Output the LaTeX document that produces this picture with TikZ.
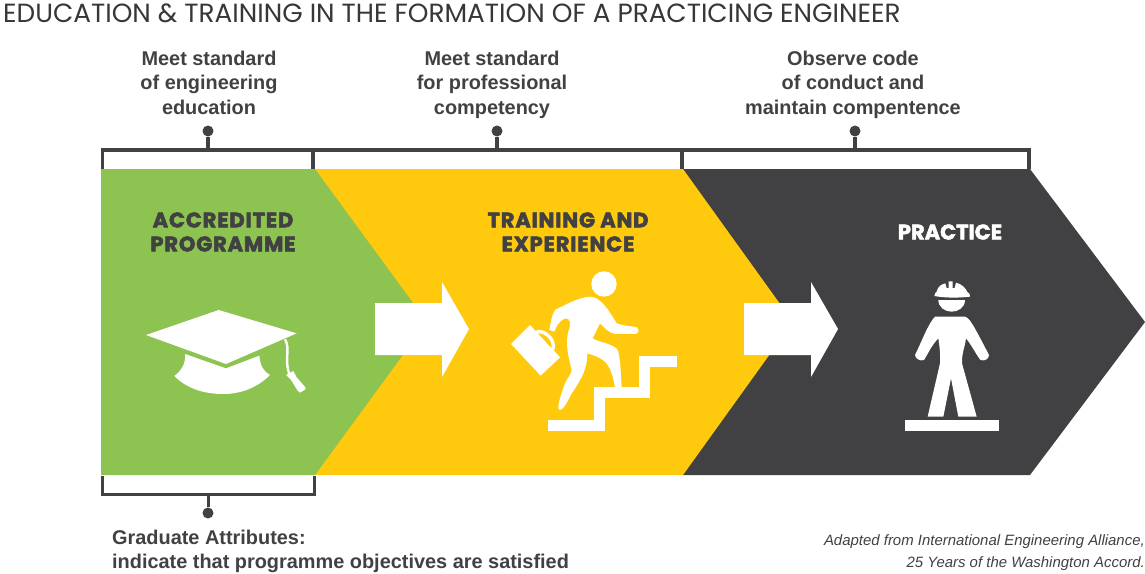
\documentclass[tikz,border=0pt]{standalone}
\usepackage{fontspec}
\setmainfont{Liberation Sans}
\newfontfamily\titlefont{Poppins}
\newfontfamily\headfont[FakeBold=2.5, LetterSpace=4]{Poppins}
\newfontfamily\plainheadfont[FakeBold=2.5]{Poppins}
\usetikzlibrary{positioning}
\definecolor{ink}{HTML}{414042}
\definecolor{leaf}{HTML}{8DC350}
\definecolor{sun}{HTML}{FFC90D}
\tikzstyle{rail} = [draw=ink, line width=3.6pt, line cap=rect]
\tikzstyle{railthin} = [draw=ink, line width=3pt, line cap=rect]
\tikzstyle{pin} = [circle, fill=ink, inner sep=0pt, minimum size=11pt]
\tikzstyle{note} = [text=ink, align=center, inner sep=0pt, anchor=north, font=\fontsize{19.9}{24.5}\selectfont\bfseries]
\tikzstyle{head} = [text=ink, align=center, inner sep=0pt, font=\fontsize{21}{24}\selectfont\headfont\bfseries]
\tikzstyle{icon} = [fill=white, draw=none]
\tikzstyle{zoomed} = [x=0.3333pt, y=-0.3333pt]

\begin{document}
\begin{tikzpicture}[x=1pt, y=-1pt]
    \useasboundingbox (0,0) rectangle (1145,573);

    % chevrons
    \fill [ink] (683,169) -- (1030,169) -- (1145,322) -- (1030,475) -- (683,475) -- cycle;
    \fill [sun] (315,169) -- (683,169) -- (793,322) -- (683,475) -- (315,475) -- cycle;
    \fill [leaf] (101,169) -- (315,169) -- (427,322) -- (315,475) -- (101,475) -- cycle;

    % white arrows
    \fill [icon] (375,303) -- (442,303) -- (442,282) -- (469,329) -- (442,377) -- (442,355) -- (375,355) -- cycle;
    \fill [icon] (744,303) -- (811,303) -- (811,282) -- (838,329) -- (811,377) -- (811,355) -- (744,355) -- cycle;

    % brackets
    \coordinate (railL) at (102.5,150);
    \coordinate (railA) at (313,150);
    \coordinate (railB) at (682,150);
    \coordinate (railR) at (1029,150);
    \draw [rail] (102.5,167) -- (railL) -- (railR) -- (1029,167);
    \draw [rail] (railA) -- (313,167);
    \draw [rail] (railB) -- (682,167);
    \coordinate (baseL) at (102.5,494);
    \coordinate (baseR) at (314,494);
    \draw [railthin] (102.5,477) -- (baseL) -- (baseR) -- (314,477);

    % pins and notes
    \node [pin] (pinA) at (208,131) {};
    \node [pin] (pinB) at (497,131) {};
    \node [pin] (pinC) at (855,131) {};
    \node [pin] (pinD) at (208,513) {};
    \draw [rail, line cap=butt] (pinA) -- (pinA |- railL);
    \draw [rail, line cap=butt] (pinB) -- (pinB |- railL);
    \draw [rail, line cap=butt] (pinC) -- (pinC |- railL);
    \draw [railthin, line cap=butt] (pinD) -- (pinD |- baseL);
    \node [note] (noteA) at (209,50.5) {Meet standard\\of engineering\\education};
    \node [note] (noteB) at (492,50.5) {Meet standard\\for professional\\competency};
    \node [note] (noteC) at (853,50.5) {Observe code\\of conduct and\\maintain compentence};
    \node [note, align=left, anchor=north west] (noteD) at (112,529.5) {Graduate Attributes:\\indicate that programme objectives are satisfied};
    \node [text=ink, align=right, anchor=north east, inner sep=0pt, font=\fontsize{14.95}{22}\selectfont\itshape] (source) at (1145,534.5) {Adapted from International Engineering Alliance,\\25 Years of the Washington Accord.};
    \node [anchor=west, inner sep=0pt, text=ink!85!black, font=\fontsize{26.3}{30}\selectfont\titlefont] (title) at (3,13) {EDUCATION \& TRAINING IN THE FORMATION OF A PRACTICING ENGINEER};

    % headings
    \node [head] (acc) at (223,232) {ACCREDITED\\PROGRAMME};
    \node [head] (trn) at (568,232) {TRAINING AND\\EXPERIENCE};
    \node [head, text=white, font=\fontsize{21}{24}\selectfont\plainheadfont\bfseries] (prc) at (950,232) {PRACTICE};

    % cap
    \begin{scope}[shift={(130,290)}, zoomed]
        \fill [icon] (48,135) -- (266,60) -- (500,130) -- (288,222) -- cycle;
        \fill [icon] (165,192) -- (288,235) -- (388,197) .. controls (390,225) and (400,245) .. (420,255)
            .. controls (380,295) and (330,312) .. (280,312) .. controls (220,312) and (170,295) .. (133,258)
            .. controls (150,245) and (168,225) .. (165,192) -- cycle;
        \draw [white, line width=2.4pt] (465,148) .. controls (482,175) and (462,210) .. (478,252);
        \fill [icon] (468,255) -- (490,243) -- (500,262) -- (527,293) -- (525,299) -- (510,308) -- (503,302) -- (482,268) -- cycle;
    \end{scope}

    % walking man and stairs
    \begin{scope}[shift={(500,260)}, zoomed]
        \fill [icon] (312,72) circle (38);
        \fill [icon] (270,110) .. controls (300,112) and (320,140) .. (350,190) .. controls (370,198) and (395,198) .. (410,202)
            .. controls (420,208) and (415,222) .. (405,222) -- (345,222) .. controls (325,218) and (310,200) .. (300,190)
            -- (278,235) .. controls (300,248) and (335,250) .. (352,268) .. controls (362,290) and (362,340) .. (365,382)
            -- (345,382) .. controls (340,350) and (330,320) .. (315,305) .. controls (300,292) and (280,285) .. (262,280)
            .. controls (262,320) and (250,350) .. (215,400) .. controls (205,420) and (190,450) .. (180,450)
            .. controls (170,450) and (175,425) .. (195,370) .. controls (205,350) and (215,340) .. (215,330)
            .. controls (205,290) and (195,250) .. (205,215) .. controls (215,190) and (210,175) .. (197,175)
            .. controls (180,180) and (170,195) .. (163,215) -- (148,210) .. controls (152,190) and (155,165) .. (165,150)
            .. controls (195,135) and (235,112) .. (270,110) -- cycle;
        \fill [icon] (33,252) -- (90,195) -- (180,292) -- (122,347) -- cycle;
        \draw [white, line width=3.4pt] (108,218) .. controls (125,205) and (170,235) .. (158,270);
        \draw [white, line width=11pt, line join=miter] (144,497.5) -- (298.5,497.5) -- (298.5,399) -- (435,399) -- (435,305.5) -- (530,305.5);
    \end{scope}

    % worker
    \begin{scope}[shift={(890,270)}, zoomed]
        \fill [icon] (145,90) -- (225,90) .. controls (225,112) and (205,125) .. (185,125) .. controls (165,125) and (145,112) .. (145,90) -- cycle;
        \fill [icon] (133,78) .. controls (133,70) and (138,68) .. (140,65) .. controls (143,50) and (155,42) .. (166,40) -- (170,54) -- (176,54) -- (176,34) -- (188,34) -- (188,54) -- (194,54) -- (198,38)
            .. controls (215,42) and (228,55) .. (232,66) .. controls (238,70) and (241,72) .. (240,80) .. controls (205,84) and (165,84) .. (133,78) -- cycle;
        \fill [icon] (135,140) -- (225,140) .. controls (240,145) and (250,165) .. (297,255)
            .. controls (297,265) and (285,275) .. (272,270) .. controls (265,265) and (245,225) .. (228,205)
            .. controls (225,230) and (215,250) .. (216,280) -- (260,440) -- (205,440) -- (183,325) -- (160,440) -- (113,440)
            -- (150,280) .. controls (152,255) and (148,225) .. (145,205) .. controls (125,225) and (112,255) .. (102,270)
            .. controls (90,275) and (75,265) .. (75,255) .. controls (95,215) and (115,160) .. (135,140) -- cycle;
        \fill [icon] (45,450) rectangle (326,484);
    \end{scope}
\end{tikzpicture}
\end{document}
